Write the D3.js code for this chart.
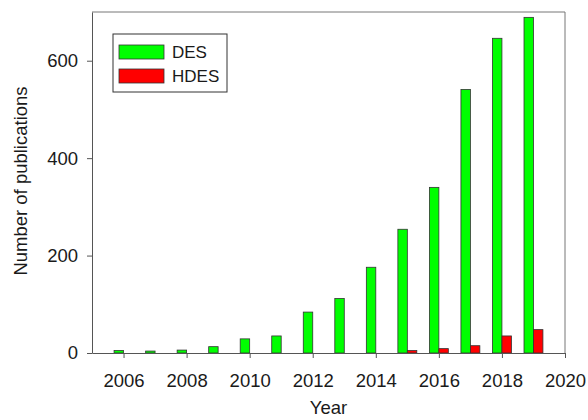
<!DOCTYPE html>
<html>
<head>
<meta charset="utf-8">
<script src="https://cdn.jsdelivr.net/npm/d3@7"></script>
<style>
  body { margin: 0; background: #fff; }
  text { font-family: "Liberation Sans", Arial, sans-serif; fill: #1a1a1a; }
</style>
</head>
<body>
<div id="chart-container"></div>
<script>
// Data
var years = [2006, 2007, 2008, 2009, 2010, 2011, 2012, 2013, 2014, 2015, 2016, 2017, 2018, 2019];
var desValues = [5, 4, 6, 13, 29, 35, 84, 112, 176, 254, 340, 541, 646, 689];
var hdesValues = [0, 0, 0, 0, 0, 0, 0, 0, 0, 5, 9, 15, 35, 48];
var xTicks = [2006, 2008, 2010, 2012, 2014, 2016, 2018, 2020];
var yTicks = [0, 200, 400, 600];
var seriesNames = ["DES", "HDES"];
var seriesColors = ["#00ff00", "#ff0000"];

var width = 588, height = 420;
var margin = { top: 12, right: 23, bottom: 67, left: 92 };
var plotW = width - margin.left - margin.right,
    plotH = height - margin.top - margin.bottom;

var svg = d3.select("#chart-container")
  .append("svg")
  .attr("width", width)
  .attr("height", height);

var g = svg.append("g")
  .attr("transform", "translate(" + margin.left + "," + margin.top + ")");

var xScale = d3.scaleLinear().domain([2005, 2020]).range([0, plotW]);
var yScale = d3.scaleLinear().domain([0, 700]).range([plotH, 0]);

var barW = 0.3; // in years

// Frame (top and right)
g.append("path")
  .attr("d", "M0,0H" + plotW + "V" + plotH)
  .attr("fill", "none")
  .attr("stroke", "#777")
  .attr("stroke-width", 1);

// Bars
var series = [desValues, hdesValues];
series.forEach(function(vals, si) {
  g.selectAll(".bar" + si)
    .data(years.map(function(y, i) { return { year: y, value: vals[i] }; })
      .filter(function(d) { return d.value > 0; }))
    .enter().append("rect")
    .attr("x", function(d) { return xScale(si === 0 ? d.year - barW : d.year); })
    .attr("width", xScale(2005 + barW) - xScale(2005))
    .attr("y", function(d) { return yScale(d.value); })
    .attr("height", function(d) { return yScale(0) - yScale(d.value); })
    .attr("fill", seriesColors[si])
    .attr("stroke", "#333")
    .attr("stroke-width", 0.8);
});

// Axes
var xAxis = g.append("g")
  .attr("transform", "translate(0," + plotH + ")")
  .call(d3.axisBottom(xScale).tickValues(xTicks).tickFormat(d3.format("d")).tickSize(5).tickSizeOuter(0));
var yAxis = g.append("g")
  .call(d3.axisLeft(yScale).tickValues(yTicks).tickSize(5).tickSizeOuter(0));

[xAxis, yAxis].forEach(function(ax) {
  ax.select(".domain").attr("stroke", "#555");
  ax.selectAll(".tick line").attr("stroke", "#555");
  ax.selectAll(".tick text").style("font-size", "18.5px").attr("fill", "#1a1a1a");
});
xAxis.selectAll(".tick text").attr("y", 34).attr("dy", 0);
yAxis.selectAll(".tick text").attr("x", -14);

// Axis titles
svg.append("text")
  .attr("x", margin.left + xScale(2012.5))
  .attr("y", 414)
  .attr("text-anchor", "middle")
  .style("font-size", "18.5px")
  .text("Year");

svg.append("text")
  .attr("transform", "translate(27,181) rotate(-90)")
  .attr("text-anchor", "middle")
  .style("font-size", "18.5px")
  .text("Number of publications");

// Legend
var legend = svg.append("g").attr("transform", "translate(113,34)");
legend.append("rect")
  .attr("width", 114).attr("height", 58)
  .attr("fill", "#fff").attr("stroke", "#333").attr("stroke-width", 1);
seriesNames.forEach(function(name, i) {
  legend.append("rect")
    .attr("x", 6).attr("y", 11 + i * 24)
    .attr("width", 45).attr("height", 14)
    .attr("fill", seriesColors[i]).attr("stroke", "#333").attr("stroke-width", 0.8);
  legend.append("text")
    .attr("x", 59).attr("y", 24 + i * 24)
    .style("font-size", "17px")
    .text(name);
});
</script>
</body>
</html>
